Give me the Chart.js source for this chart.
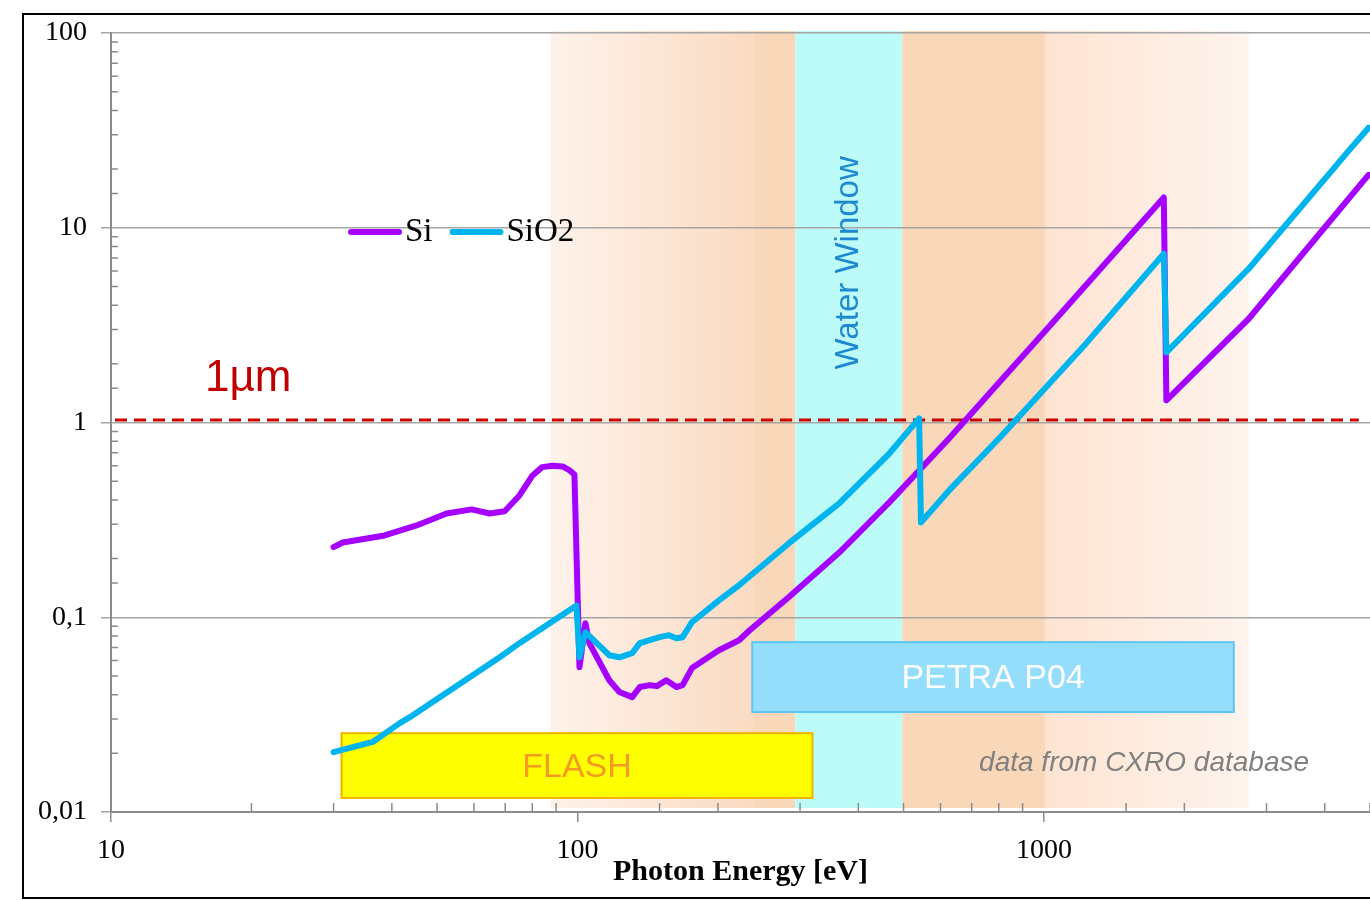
<!DOCTYPE html>
<html>
<head>
<meta charset="utf-8">
<title>Si / SiO2 attenuation length</title>
<script src="https://cdn.jsdelivr.net/npm/chart.js@4.4.1/dist/chart.umd.min.js"></script>
<style>
  html, body { margin: 0; padding: 0; background: #fff; overflow: hidden; }
  #wrap { position: relative; width: 1370px; height: 900px; overflow: hidden; }
  #frame { position: absolute; left: 22px; top: 13px; width: 1400px; height: 886px; border: 2px solid #000; box-sizing: border-box; }
  #chart { position: absolute; left: 0; top: 0; }
</style>
</head>
<body>
<div id="wrap">
  <div id="frame"></div>
  <canvas id="chart" width="1370" height="900"></canvas>
</div>
<script>
// photon energy (eV) and attenuation length (um)
const siEnergy = [30, 31.4, 38.6, 45.2, 52.4, 59.3, 64.8, 69.8, 75.1, 80.1, 84, 88.4, 92.9, 96, 98.5,
                  101, 104, 106, 117, 123, 131, 136, 143, 148, 155, 163, 168, 176, 201, 222, 234,
                  284, 364, 466, 626, 1040, 1807, 1830, 2748, 3516, 4842, 4966];
const siLength = [0.229, 0.242, 0.263, 0.296, 0.341, 0.358, 0.341, 0.35, 0.422, 0.535, 0.59, 0.60, 0.595, 0.57, 0.54,
                  0.0554, 0.0932, 0.0736, 0.0475, 0.0413, 0.0389, 0.0438, 0.0448, 0.0443, 0.0475, 0.0438, 0.0448, 0.0548, 0.0677, 0.0762, 0.0858,
                  0.127, 0.215, 0.389, 0.828, 3.22, 14.3, 1.30, 3.41, 6.93, 17.4, 18.7];

const sio2Energy = [30, 36.4, 41.6, 43.7, 68.1, 75.1, 99.5, 101, 104, 110, 117, 123, 131, 136, 150, 157, 163, 168,
                    176, 201, 222, 284, 364, 466, 540, 545, 626, 801, 1230, 1807, 1830, 2748, 4498, 4966];
const sio2Length = [0.0203, 0.0229, 0.0286, 0.0307, 0.0623, 0.0736, 0.115, 0.0623, 0.0838, 0.0736, 0.0638, 0.0623, 0.0654, 0.0736, 0.079, 0.0809, 0.078, 0.079,
                    0.0943, 0.122, 0.146, 0.240, 0.384, 0.693, 1.05, 0.307, 0.448, 0.828, 2.54, 7.36, 2.29, 6.16, 24.8, 32.6];

const oneMicron = 1.03;
const oneMicronRange = [10.2, 4730];

// shaded energy ranges (eV)
const bandStart = [87.5, 238, 293, 497, 1005];
const bandEnd = [238, 293, 497, 1005, 2748];

// source boxes: energy range and length range
const boxLabels = ['FLASH', 'PETRA P04'];
const boxEnergyFrom = [31.2, 237];
const boxEnergyTo = [319, 2553];
const boxLengthFrom = [0.0118, 0.0326];
const boxLengthTo = [0.0254, 0.0745];

const yTickValues = [0.01, 0.1, 1, 10, 100];
const yTickLabels = ['0,01', '0,1', '1', '10', '100'];
const xTickValues = [10, 100, 1000];
const xTickLabels = ['10', '100', '1000'];

const SERIF = '"Liberation Serif", "Times New Roman", serif';
const SANS = '"Liberation Sans", Arial, sans-serif';

function isDecade(v) {
    const l = Math.log10(v);
    return Math.abs(l - Math.round(l)) < 1e-6;
}

function labelFor(v, values, labels) {
    const i = values.findIndex(t => Math.abs(t - v) / t < 1e-6);
    return i >= 0 ? labels[i] : '';
}

const bandFills = [
    ['rgb(254,242,234)', 'rgb(250,219,194)'],
    'rgb(249,215,185)',
    'rgb(189,251,248)',
    'rgb(249,215,185)',
    ['rgb(254,227,209)', 'rgb(254,244,238)']
];
const boxFills = ['#ffff00', '#94defc'];
const boxStrokes = ['#f0b400', '#5ec6f0'];
const boxTextColors = ['#f59a23', '#ffffff'];

const decorPlugin = {
    id: 'decor',
    beforeDraw(chart) {
        const { ctx, chartArea: a, scales: { x } } = chart;
        ctx.save();
        bandStart.forEach((s, i) => {
            const x0 = x.getPixelForValue(s);
            const x1 = x.getPixelForValue(bandEnd[i]);
            let fill = bandFills[i];
            if (Array.isArray(fill)) {
                const g = ctx.createLinearGradient(x0, 0, x1, 0);
                g.addColorStop(0, fill[0]);
                g.addColorStop(1, fill[1]);
                fill = g;
            }
            ctx.fillStyle = fill;
            ctx.fillRect(x0, a.top - 2, x1 - x0, a.bottom - a.top - 2);
        });
        ctx.restore();
    },
    beforeDatasetsDraw(chart) {
        const { ctx, chartArea: a, scales: { x, y } } = chart;
        ctx.save();

        // minor ticks point inwards
        ctx.strokeStyle = '#8c8c8c';
        ctx.lineWidth = 1.5;
        ctx.beginPath();
        x.ticks.forEach(t => {
            if (isDecade(t.value)) return;
            const px = x.getPixelForValue(t.value);
            ctx.moveTo(px, a.bottom);
            ctx.lineTo(px, a.bottom - 9);
        });
        y.ticks.forEach(t => {
            if (isDecade(t.value)) return;
            const py = y.getPixelForValue(t.value);
            ctx.moveTo(a.left, py);
            ctx.lineTo(a.left + 7, py);
        });
        ctx.stroke();

        // FLASH / PETRA boxes
        boxLabels.forEach((lab, i) => {
            const x0 = x.getPixelForValue(boxEnergyFrom[i]);
            const x1 = x.getPixelForValue(boxEnergyTo[i]);
            const y0 = y.getPixelForValue(boxLengthTo[i]);
            const y1 = y.getPixelForValue(boxLengthFrom[i]);
            ctx.fillStyle = boxFills[i];
            ctx.fillRect(x0, y0, x1 - x0, y1 - y0);
            ctx.strokeStyle = boxStrokes[i];
            ctx.lineWidth = 2;
            ctx.strokeRect(x0, y0, x1 - x0, y1 - y0);
            ctx.fillStyle = boxTextColors[i];
            ctx.font = '34px ' + SANS;
            ctx.textAlign = 'center';
            ctx.textBaseline = 'middle';
            ctx.fillText(lab, (x0 + x1) / 2, (y0 + y1) / 2 + 2);
        });

        // water window
        ctx.save();
        ctx.translate(x.getPixelForValue(382), y.getPixelForValue(6.6));
        ctx.rotate(-Math.PI / 2);
        ctx.fillStyle = '#1e88d0';
        ctx.font = '33px ' + SANS;
        ctx.textAlign = 'center';
        ctx.textBaseline = 'middle';
        ctx.fillText('Water Window', 0, 0);
        ctx.restore();

        // 1 um marker label
        ctx.fillStyle = '#c00000';
        ctx.font = '44px ' + SANS;
        ctx.textAlign = 'left';
        ctx.textBaseline = 'middle';
        ctx.fillText('1\u00b5m', x.getPixelForValue(15.9), y.getPixelForValue(1.68));

        // data source note
        ctx.fillStyle = '#808080';
        ctx.font = 'italic 28px ' + SANS;
        ctx.fillText('data from CXRO database', x.getPixelForValue(726), y.getPixelForValue(0.0178));

        ctx.restore();
    },
    afterDatasetsDraw(chart) {
        // legend inside the plot, left of the water window
        const { ctx, chartArea: a } = chart;
        ctx.save();
        let lx = a.left + 240;
        const ly = a.top + 199;
        ctx.font = '33px ' + SERIF;
        ctx.textBaseline = 'middle';
        ctx.textAlign = 'left';
        chart.data.datasets.filter(d => d.inLegend).sort((p, q) => p.legendIndex - q.legendIndex).forEach(d => {
            ctx.strokeStyle = d.borderColor;
            ctx.lineWidth = 6;
            ctx.lineCap = 'round';
            ctx.beginPath();
            ctx.moveTo(lx, ly);
            ctx.lineTo(lx + 48, ly);
            ctx.stroke();
            ctx.fillStyle = '#000';
            ctx.fillText(d.label, lx + 54, ly);
            lx += 54 + ctx.measureText(d.label).width + 20;
        });
        ctx.restore();
    }
};

const toPoints = (xs, ys) => xs.map((e, i) => ({ x: e, y: ys[i] }));

new Chart(document.getElementById('chart'), {
    type: 'line',
    data: {
        datasets: [
            {
                label: 'SiO2',
                data: toPoints(sio2Energy, sio2Length),
                borderColor: '#00b4ee',
                borderWidth: 6,
                pointRadius: 0,
                borderCapStyle: 'round',
                borderJoinStyle: 'round',
                order: 0,
                inLegend: true,
                legendIndex: 1
            },
            {
                label: 'Si',
                data: toPoints(siEnergy, siLength),
                borderColor: '#a600ff',
                borderWidth: 6,
                pointRadius: 0,
                borderCapStyle: 'round',
                borderJoinStyle: 'round',
                order: 1,
                inLegend: true,
                legendIndex: 0
            },
            {
                label: '1 µm',
                data: toPoints(oneMicronRange, [oneMicron, oneMicron]),
                borderColor: '#cc0000',
                borderWidth: 3,
                borderDash: [12, 7],
                pointRadius: 0,
                order: 2
            }
        ]
    },
    options: {
        responsive: false,
        animation: false,
        devicePixelRatio: 1,
        layout: { padding: { top: 33, right: 0, bottom: 0, left: 0 } },
        plugins: {
            legend: { display: false },
            tooltip: { enabled: false }
        },
        scales: {
            x: {
                type: 'logarithmic',
                min: 10,
                max: 5000,
                afterFit(s) { s.height = 88; s.paddingLeft = 0; s.paddingRight = 0; },
                border: { color: '#8c8c8c', width: 2 },
                grid: {
                    drawOnChartArea: false,
                    tickLength: 10,
                    lineWidth: 1.5,
                    color: c => (c.tick && isDecade(c.tick.value)) ? '#8c8c8c' : 'rgba(0,0,0,0)'
                },
                ticks: {
                    autoSkip: false,
                    maxRotation: 0,
                    padding: 12,
                    color: '#000',
                    font: { family: SERIF, size: 28 },
                    callback: v => labelFor(v, xTickValues, xTickLabels)
                },
                title: {
                    display: true,
                    text: 'Photon Energy [eV]',
                    color: '#000',
                    font: { family: SERIF, size: 30, weight: 'bold' },
                    padding: { top: 0, bottom: 10 }
                }
            },
            y: {
                type: 'logarithmic',
                min: 0.01,
                max: 100,
                afterFit(s) { s.width = 111; },
                border: { color: '#8c8c8c', width: 2 },
                grid: {
                    tickLength: 10,
                    lineWidth: 1.5,
                    color: c => (c.tick && isDecade(c.tick.value)) ? '#a6a6a6' : 'rgba(0,0,0,0)'
                },
                ticks: {
                    autoSkip: false,
                    padding: 14,
                    color: '#000',
                    font: { family: SERIF, size: 28 },
                    callback: v => labelFor(v, yTickValues, yTickLabels)
                }
            }
        }
    },
    plugins: [decorPlugin]
});
</script>
</body>
</html>
